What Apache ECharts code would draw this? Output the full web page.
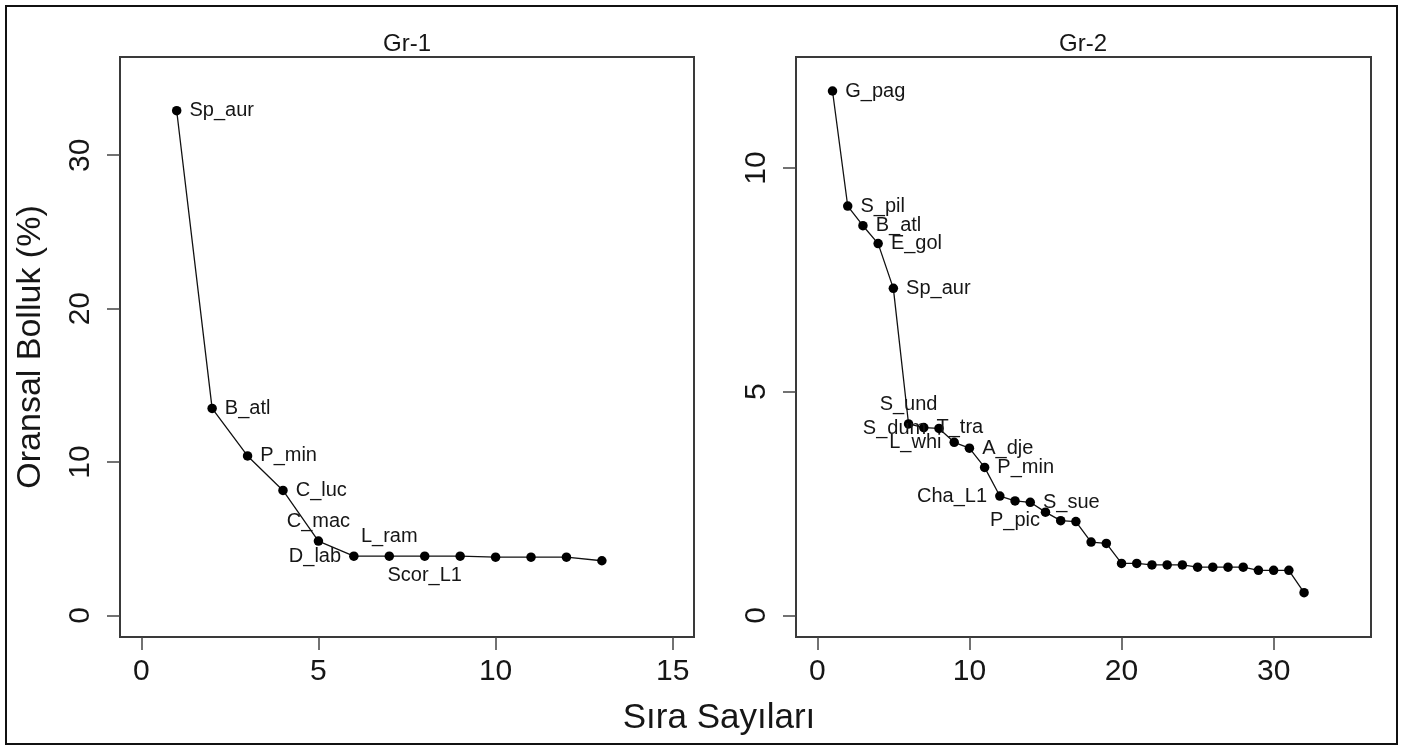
<!DOCTYPE html>
<html>
<head>
<meta charset="utf-8">
<title>Gr-1 / Gr-2</title>
<script src="https://cdn.jsdelivr.net/npm/echarts@6.0.0/dist/echarts.min.js"></script>
<style>
    html, body { margin: 0; padding: 0; background: #fff; }
    #main { width: 1408px; height: 747px; }
</style>
</head>
<body>
<div id="main"></div>
<script>
// Gr-1 verileri (sira, oransal bolluk %)
var gr1Rank = [1, 2, 3, 4, 5, 6, 7, 8, 9, 10, 11, 12, 13];
var gr1Value = [32.9, 13.5, 10.4, 8.15, 4.85, 3.87, 3.87, 3.87, 3.87, 3.8, 3.8, 3.8, 3.57];
var gr1Names = ['Sp_aur', 'B_atl', 'P_min', 'C_luc', 'C_mac', 'D_lab', 'L_ram', 'Scor_L1', '', '', '', '', ''];

// Gr-2 verileri
var gr2Rank = [1, 2, 3, 4, 5, 6, 7, 8, 9, 10, 11, 12, 13, 14, 15, 16,
    17, 18, 19, 20, 21, 22, 23, 24, 25, 26, 27, 28, 29, 30, 31, 32];
var gr2Value = [11.72, 9.15, 8.71, 8.31, 7.31, 4.28, 4.2, 4.18, 3.87, 3.74, 3.31, 2.67, 2.56, 2.53, 2.31, 2.12,
    2.1, 1.64, 1.61, 1.165, 1.165, 1.13, 1.13, 1.13, 1.08, 1.08, 1.08, 1.08, 1.01, 1.01, 1.01, 0.51];
var gr2Names = ['G_pag', 'S_pil', 'B_atl', 'E_gol', 'Sp_aur', 'S_und', 'T_tra', 'S_dum', 'L_whi', 'A_dje',
    'P_min', 'Cha_L1', 'P_pic', 'S_sue'];

// eksen tick degerleri
var gr1XTicks = [0, 5, 10, 15];
var gr1YTicks = [0, 10, 20, 30];
var gr2XTicks = [0, 10, 20, 30];
var gr2YTicks = [0, 5, 10];

var panelTitles = ['Gr-1', 'Gr-2'];
var xTitle = 'Sıra Sayıları';
var yTitle = 'Oransal Bolluk (%)';

// etiketin noktaya gore yonu
var labelSide = {
    Sp_aur: 'right', B_atl: 'right', P_min: 'right', C_luc: 'right', C_mac: 'top',
    D_lab: 'left', L_ram: 'top', Scor_L1: 'bottom',
    G_pag: 'right', S_pil: 'right', E_gol: 'right', S_und: 'top', T_tra: 'right',
    S_dum: 'left', L_whi: 'left', A_dje: 'right', Cha_L1: 'left', P_pic: 'bottom', S_sue: 'right'
};

var FONT = 'Liberation Sans, Arial, sans-serif';
var INK = '#161616';

function buildPoints(ranks, values, names) {
    return ranks.map(function (r, i) {
        var item = { value: [r, values[i]] };
        var nm = names[i];
        if (nm) {
            var side = labelSide[nm] || 'right';
            item.label = {
                show: true,
                formatter: nm,
                position: side,
                distance: (side == 'top' || side == 'bottom') ? 5 : 8
            };
        }
        return item;
    });
}

function xAxisOf(idx, min, max, ticks) {
    return {
        type: 'value', gridIndex: idx, min: min, max: max,
        axisLine: { show: false, onZero: false },
        splitLine: { show: false },
        axisTick: { show: true, inside: false, length: 13, customValues: ticks,
            lineStyle: { color: '#444', width: 1.5 } },
        axisLabel: { customValues: ticks, margin: 20, fontSize: 30, fontFamily: FONT, color: INK }
    };
}

function yAxisOf(idx, min, max, ticks) {
    return {
        type: 'value', gridIndex: idx, min: min, max: max,
        axisLine: { show: false, onZero: false },
        splitLine: { show: false },
        axisTick: { show: true, inside: false, length: 13, customValues: ticks,
            lineStyle: { color: '#444', width: 1.5 } },
        axisLabel: { customValues: ticks, rotate: 90, margin: 24, fontSize: 30, fontFamily: FONT, color: INK }
    };
}

function lineSeries(idx, pts) {
    return {
        type: 'line', xAxisIndex: idx, yAxisIndex: idx,
        data: pts,
        symbol: 'circle', symbolSize: 9.5, showAllSymbol: true,
        itemStyle: { color: '#000' },
        lineStyle: { color: '#111', width: 1.3 },
        label: { fontSize: 20, fontFamily: FONT, color: INK },
        emphasis: { disabled: true },
        animation: false
    };
}

var myChart = echarts.init(document.getElementById('main'));

var yAx0 = yAxisOf(0, -1.4, 36.4, gr1YTicks);
yAx0.name = yTitle;
yAx0.nameLocation = 'middle';
yAx0.nameRotate = 90;
yAx0.nameGap = 72;
yAx0.nameTextStyle = { fontSize: 34, fontFamily: FONT, color: INK };

var options = {
    backgroundColor: '#fff',
    animation: false,
    grid: [
        { left: 120, top: 57, width: 574, height: 580, show: true, borderColor: '#3a3a3a', borderWidth: 2 },
        { left: 796, top: 57, width: 575, height: 580, show: true, borderColor: '#3a3a3a', borderWidth: 2 }
    ],
    xAxis: [
        xAxisOf(0, -0.6, 15.6, gr1XTicks),
        xAxisOf(1, -1.4, 36.4, gr2XTicks)
    ],
    yAxis: [
        yAx0,
        yAxisOf(1, -0.48, 12.48, gr2YTicks)
    ],
    series: [
        lineSeries(0, buildPoints(gr1Rank, gr1Value, gr1Names)),
        lineSeries(1, buildPoints(gr2Rank, gr2Value, gr2Names))
    ],
    graphic: [
        { type: 'rect', shape: { x: 6, y: 6, width: 1391, height: 738 },
            style: { fill: 'none', stroke: '#111', lineWidth: 2 } },
        { type: 'text', x: 407, y: 44,
            style: { text: panelTitles[0], font: '24px ' + FONT, fill: INK,
                textAlign: 'center', textVerticalAlign: 'middle', align: 'center', verticalAlign: 'middle' } },
        { type: 'text', x: 1083, y: 44,
            style: { text: panelTitles[1], font: '24px ' + FONT, fill: INK,
                textAlign: 'center', textVerticalAlign: 'middle', align: 'center', verticalAlign: 'middle' } },
        { type: 'text', x: 719, y: 718,
            style: { text: xTitle, font: '35px ' + FONT, fill: INK,
                textAlign: 'center', textVerticalAlign: 'middle', align: 'center', verticalAlign: 'middle' } }
    ]
};
myChart.setOption(options);
</script>
</body>
</html>
